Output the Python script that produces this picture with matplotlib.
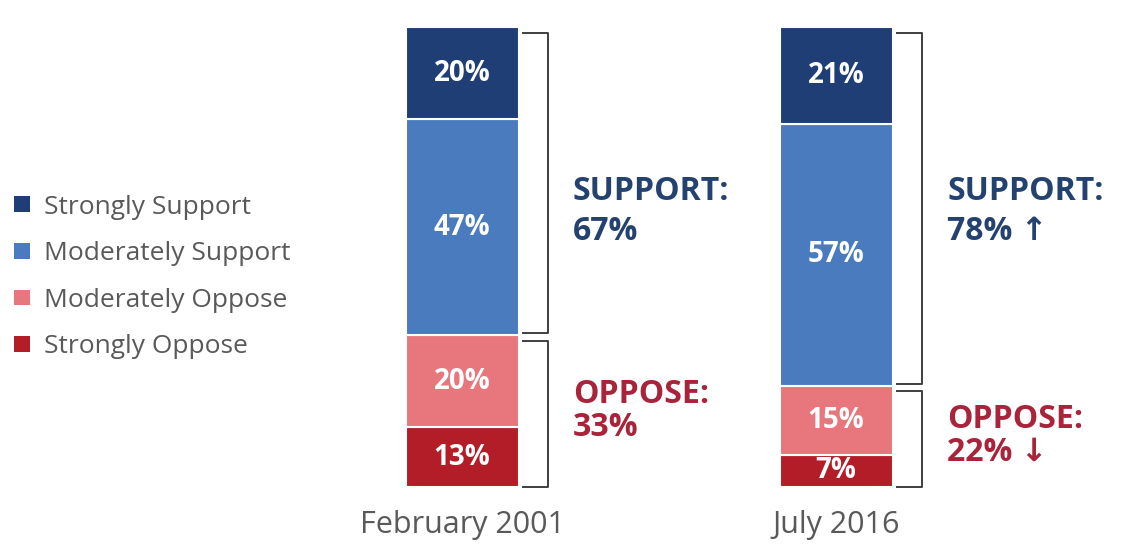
import numpy as np
import matplotlib.pyplot as plt
from matplotlib.patches import Patch

plt.rcParams['font.family'] = ['Open Sans', 'DejaVu Sans']

periods = ['February 2001', 'July 2016']
categories = ['Strongly Oppose', 'Moderately Oppose', 'Moderately Support', 'Strongly Support']
strongly_oppose = [13, 7]
moderately_oppose = [20, 15]
moderately_support = [47, 57]
strongly_support = [20, 21]
support_totals = [67, 78]
oppose_totals = [33, 22]
trend_marks = ['', ' \u2191']
trend_marks_oppose = ['', ' \u2193']

colors = ['#B31D28', '#E8777D', '#4A7BBF', '#1F3E76']
support_color = '#24426F'
oppose_color = '#A9233A'
gray = '#595959'

W, H = 1121, 544
fig = plt.figure(figsize=(W / 100, H / 100), dpi=100)
ax = fig.add_axes([0, 0, 1, 1])

# pixel layout: bar centres at 462 / 836 px, 100% spans 460 px
x0, xs = 462, 374
y0, ys = 487, 4.6
ax.set_xlim(-x0 / xs, (W - x0) / xs)
ax.set_ylim((y0 - H) / ys, y0 / ys)
ax.axis('off')

x = np.arange(len(periods))
width = 113 / xs
series = [strongly_oppose, moderately_oppose, moderately_support, strongly_support]
bottom = np.zeros(len(periods))
bars = []
for vals, col, name in zip(series, colors, categories):
    b = ax.bar(x, vals, width, bottom=bottom, color=col, edgecolor='white',
               linewidth=1.5, label=name)
    bars.append(b)
    for xi, v, bt in zip(x, vals, bottom):
        ax.text(xi, bt + v / 2, '%d%%' % v, ha='center', va='center',
                color='white', fontsize=20, fontweight='bold')
    bottom += np.array(vals)

# brackets to the right of each bar
px = 1 / xs
def bracket(xc, top, bot):
    xl = xc + width / 2 + 3 * px
    xr = xc + width / 2 + 29 * px
    ax.plot([xl, xr, xr, xl], [top, top, bot, bot], color='#3F3F3F',
            lw=1.4, solid_joinstyle='round', solid_capstyle='butt')

for i in range(len(periods)):
    opp = oppose_totals[i]
    bracket(x[i], 100 - 1.3, opp + 0.4)
    bracket(x[i], opp - 1.2, 0.1)

    tx = x[i] + 111 * px
    ax.text(tx, (y0 - 192) / ys, 'SUPPORT:', color=support_color,
            fontsize=23, fontweight='bold', va='center')
    ax.text(tx, (y0 - 231) / ys, '%d%%%s' % (support_totals[i], trend_marks[i]),
            color=support_color, fontsize=23, fontweight='bold', va='center')
    mid = opp / 2
    ax.text(tx, mid + 17 / ys, 'OPPOSE:', color=oppose_color,
            fontsize=23, fontweight='bold', va='center')
    ax.text(tx, mid - 16 / ys, '%d%%%s' % (oppose_totals[i], trend_marks_oppose[i]),
            color=oppose_color, fontsize=23, fontweight='bold', va='center')

    ax.text(x[i], (y0 - 525) / ys, periods[i], ha='center', va='center',
            color=gray, fontsize=22)

handles = [Patch(facecolor=c, edgecolor='none') for c in colors[::-1]]
leg = ax.legend(handles, categories[::-1], loc='center left',
                bbox_to_anchor=(14 / W, 1 - 277 / H), frameon=False,
                fontsize=19, handlelength=0.6, handleheight=0.55,
                handletextpad=0.55, labelspacing=0.82, borderpad=0,
                borderaxespad=0)
for t in leg.get_texts():
    t.set_color(gray)

fig.savefig('out.png', dpi=100)
